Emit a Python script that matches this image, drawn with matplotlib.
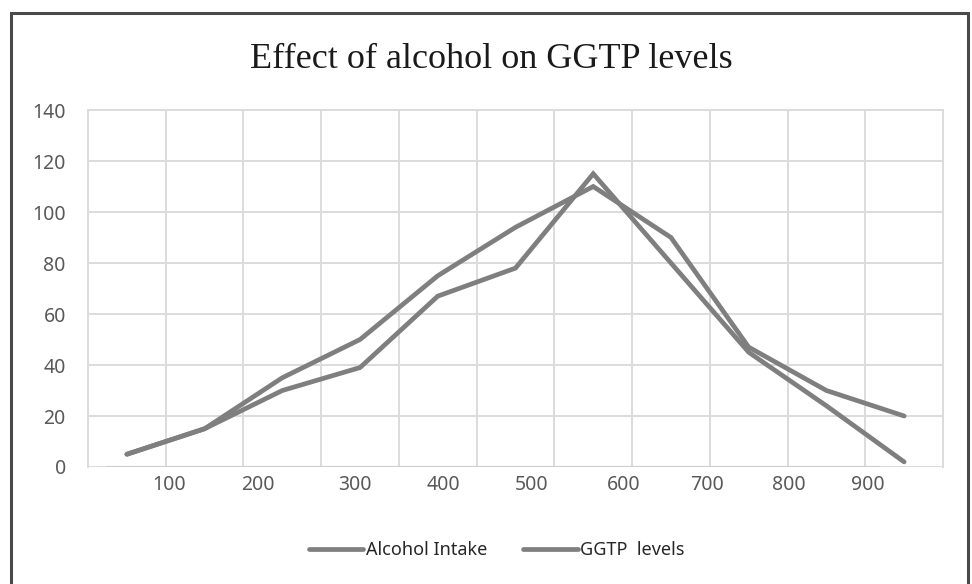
import matplotlib
matplotlib.use("Agg")
import matplotlib.pyplot as plt
from matplotlib.patches import Rectangle
import numpy as np

# Series values, one per category
categories = list(range(11))
alcohol_intake = [5, 15, 35, 50, 75, 94, 110, 90, 47, 30, 20]
ggtp_levels = [5, 15, 30, 39, 67, 78, 115, 80, 45, 24, 2]

x_tick_labels = ["100", "200", "300", "400", "500", "600", "700", "800", "900"]
y_ticks = [0, 20, 40, 60, 80, 100, 120, 140]

title = "Effect of alcohol on GGTP levels"
series_names = ["Alcohol Intake", "GGTP  levels"]

# Where the x tick labels sit along the category axis
x_label_pos = [0.54, 1.69, 2.94, 4.07, 5.21, 6.39, 7.47, 8.52, 9.53]

W, H = 972, 584
fig = plt.figure(figsize=(W / 100, H / 100), dpi=100)
fig.patch.set_facecolor("white")

# dark frame around the chart
frame = Rectangle((11 / W, -0.05), (968 - 11) / W, 1 - 13 / H + 0.05,
                  transform=fig.transFigure, fill=False,
                  edgecolor="#4a4a4a", linewidth=2.2)
fig.add_artist(frame)

ax = fig.add_axes([88 / W, 1 - 467 / H, (943 - 88) / W, (467 - 110) / H])

line_color = "#7f7f7f"
grid_color = "#dcdcdc"
text_color = "#595959"

x = np.array(categories)
l1, = ax.plot(x, alcohol_intake, color=line_color, lw=3.4,
              solid_joinstyle="miter", solid_capstyle="round", zorder=3)
l2, = ax.plot(x, ggtp_levels, color=line_color, lw=3.4,
              solid_joinstyle="miter", solid_capstyle="round", zorder=3)

ax.set_xlim(-0.5, len(categories) - 0.5)
ax.set_ylim(0, 140)

# gridlines between categories
ax.set_xticks(np.arange(0.5, len(categories) - 1, 1.0), minor=True)
ax.grid(True, which="minor", axis="x", color=grid_color, lw=1.4)
ax.set_yticks(y_ticks)
ax.grid(True, which="major", axis="y", color=grid_color, lw=1.4)
ax.tick_params(axis="x", which="minor", length=0)

ax.set_xticks(x_label_pos)
ax.set_xticklabels(x_tick_labels)
ax.tick_params(axis="x", which="major", length=0, pad=6,
               labelsize=14, labelcolor=text_color)
ax.tick_params(axis="y", length=0, pad=16, labelsize=14, labelcolor=text_color)
for lab in ax.get_xticklabels() + ax.get_yticklabels():
    lab.set_fontfamily("Noto Sans")

for s in ax.spines.values():
    s.set_color(grid_color)
    s.set_linewidth(1.4)
ax.spines["bottom"].set_visible(False)
ax.axhline(0, xmin=(107 - 88) / 855, xmax=(879 - 88) / 855,
           color="#cfcfcf", lw=1.6, zorder=2)
ax.set_axisbelow(True)

fig.text(491 / W, 1 - 60 / H, title, ha="center", va="center",
         fontsize=26, family="Liberation Serif", color="#1a1a1a")

leg = fig.legend([l1, l2], series_names, loc="center",
                 bbox_to_anchor=(497 / W, 1 - 550 / H), ncol=2,
                 frameon=False, handlelength=3.0, handletextpad=0.15,
                 columnspacing=2.0, prop={"family": "Noto Sans", "size": 13})
for t in leg.get_texts():
    t.set_color("#262626")

fig.savefig("out.png", dpi=100, facecolor="white")
